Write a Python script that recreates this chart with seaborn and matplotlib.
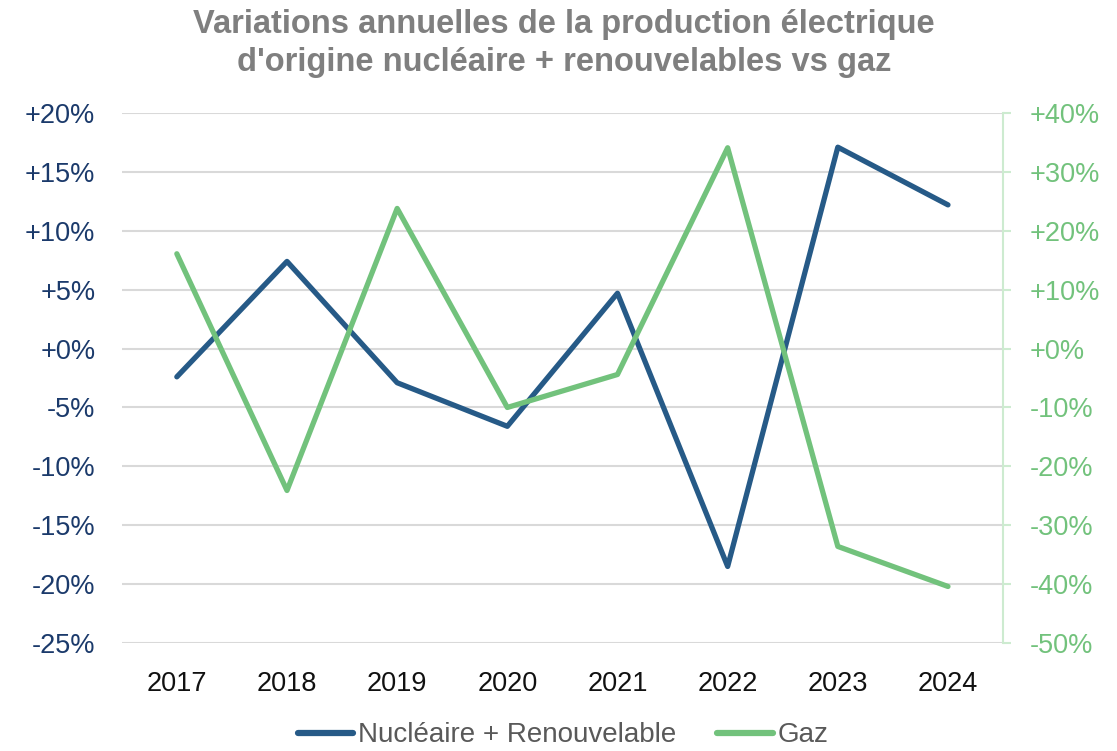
import matplotlib
matplotlib.use("Agg")
import matplotlib.pyplot as plt
import seaborn as sns
import pandas as pd
import numpy as np
from matplotlib.ticker import FuncFormatter, MultipleLocator
from matplotlib.lines import Line2D

years = ["2017", "2018", "2019", "2020", "2021", "2022", "2023", "2024"]
nuc_ren = [-2.4, 7.4, -2.9, -6.6, 4.7, -18.5, 17.1, 12.2]
gaz = [16.1, -24.1, 23.8, -10.0, -4.4, 34.1, -33.6, -40.4]

BLUE = "#265a87"
GREEN = "#72c27c"
NAVY = "#1b3a6b"

sns.set_theme(style="white")
plt.rcParams['font.family'] = ['Liberation Sans', 'DejaVu Sans']

df = pd.DataFrame({"year": years, "nuc": nuc_ren, "gaz": gaz})
df["x"] = np.arange(len(years))

fig = plt.figure(figsize=(11.17, 7.51), dpi=100)
ax = fig.add_axes([0.109, 0.1438, 0.789, 0.7057])
ax2 = ax.twinx()

sns.lineplot(data=df, x="x", y="nuc", ax=ax, color=BLUE, linewidth=3.8,
             solid_capstyle="round", solid_joinstyle="round", zorder=3)
sns.lineplot(data=df, x="x", y="gaz", ax=ax2, color=GREEN, linewidth=3.8,
             solid_capstyle="round", solid_joinstyle="round", zorder=3)

ax.set_xlim(-0.5, len(years) - 0.5)
ax.set_ylim(-25, 20)
ax2.set_ylim(-50, 40)
ax.yaxis.set_major_locator(MultipleLocator(5))
ax2.yaxis.set_major_locator(MultipleLocator(10))

def fmt(v, pos):
    v = int(round(v))
    return f"+{v}%" if v >= 0 else f"{v}%"

ax.yaxis.set_major_formatter(FuncFormatter(fmt))
ax2.yaxis.set_major_formatter(FuncFormatter(fmt))

ax.set_xticks(df["x"])
ax.set_xticklabels(years)
ax.set_xlabel("")
ax.set_ylabel("")
ax2.set_ylabel("")

ax.grid(axis="y", color="#d9d9d9", linewidth=1.5)
ax.set_axisbelow(True)
for s in ["left", "top", "bottom", "right"]:
    ax.spines[s].set_visible(False)
for s in ["left", "top", "bottom"]:
    ax2.spines[s].set_visible(False)
ax2.spines["right"].set_color("#cdebd0")
ax2.spines["right"].set_linewidth(1.5)

ax.tick_params(axis="y", length=0, pad=19, labelsize=19.5, labelcolor=NAVY)
ax.tick_params(axis="x", length=0, pad=20, labelsize=19.5, labelcolor="#111111")
ax2.tick_params(axis="y", direction="out", length=5.8, width=1.5, color="#cdebd0",
                pad=13.5, labelsize=19.5, labelcolor=GREEN)

fig.text(0.505, 0.942, "Variations annuelles de la production électrique\nd'origine nucléaire + renouvelables vs gaz",
         ha="center", va="center", fontsize=23.5, fontweight="bold", color="#7f7f7f",
         linespacing=1.3)

handles = [Line2D([0], [0], color=BLUE, lw=4.5, solid_capstyle="round"),
           Line2D([0], [0], color=GREEN, lw=4.5, solid_capstyle="round")]
leg = fig.legend(handles, ["Nucléaire + Renouvelable", "Gaz"], loc="center",
                 bbox_to_anchor=(0.504, 0.021), ncol=2, frameon=False,
                 handlelength=2.0, handletextpad=0.15, columnspacing=1.5,
                 borderpad=0.1, prop={"size": 20})
for t in leg.get_texts():
    t.set_color("#595959")

fig.savefig("out.png", dpi=100)
